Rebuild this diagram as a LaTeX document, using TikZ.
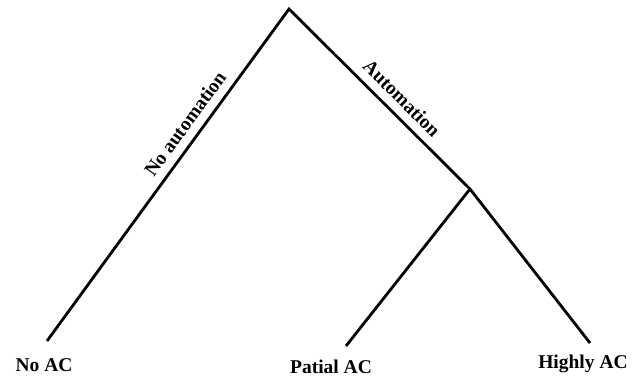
\documentclass[tikz,border=0pt]{standalone}
\usepackage{fontspec}
\setmainfont{Liberation Serif}
\usetikzlibrary{positioning}

\begin{document}
\begin{tikzpicture}[
  x=1pt, y=-1pt,
  branch/.style={line width=2.8pt},
  leaf/.style={font=\fontsize{19.5}{22}\selectfont\bfseries, inner sep=0pt, anchor=base},
  blabel/.style={font=\fontsize{19.5}{22}\selectfont\bfseries, sloped, above=5pt, inner sep=3pt}
]
\useasboundingbox (0,0) rectangle (640,381);

% tree vertices
\coordinate (root) at (289,9);
\coordinate (auto) at (470,189);
\coordinate (noac) at (47,341);
\coordinate (patial) at (346,346);
\coordinate (highly) at (590,343);

% leaf texts
\node[leaf] (tnoac) at (44,371) {No AC};
\node[leaf] (tpatial) at (331,373) {Patial AC};
\node[leaf] (thighly) at (583,368) {Highly AC};

% branches
\draw[branch] (noac) -- node[blabel, pos=0.625] (lnoauto) {No automation} (root)
  -- node[blabel, pos=0.56] (lauto) {Automation} (auto) -- (highly);
\draw[branch] (auto) -- (patial);
\end{tikzpicture}
\end{document}
